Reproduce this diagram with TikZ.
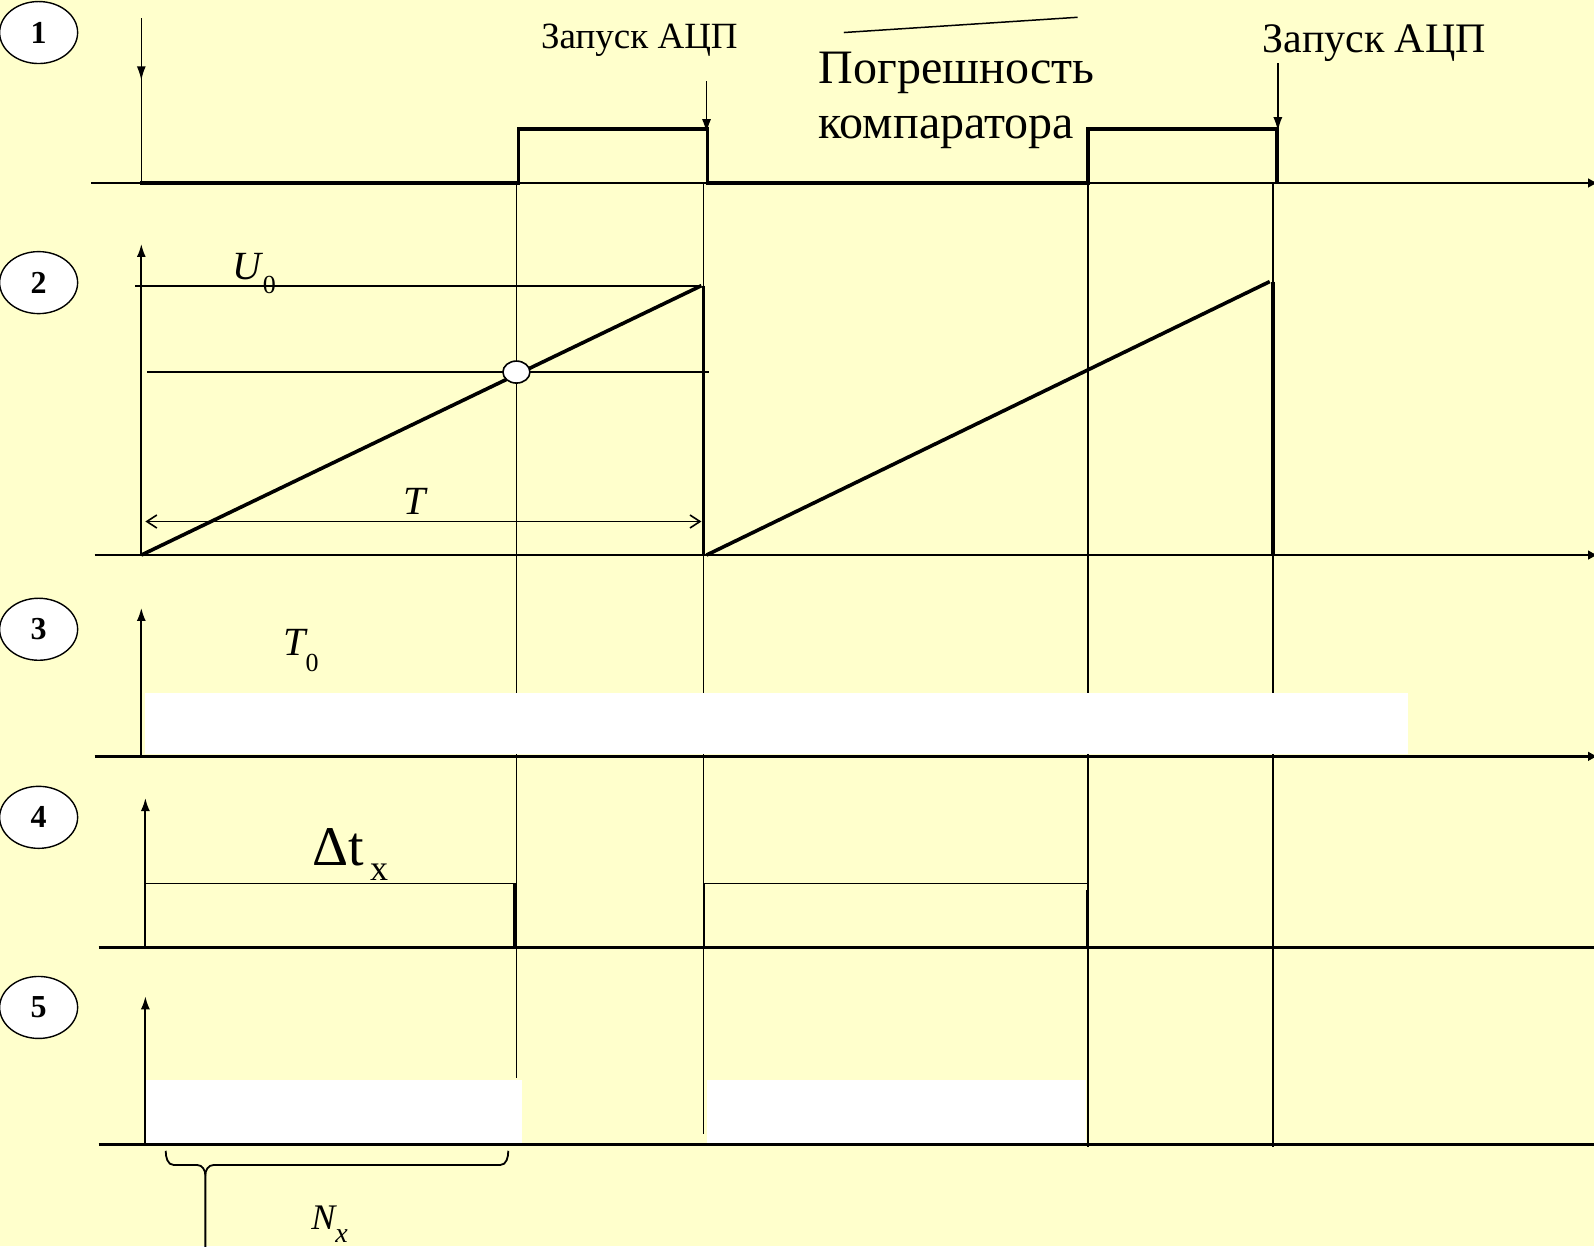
\documentclass[tikz,border=0pt]{standalone}
\usepackage{fontspec}
\setmainfont{Liberation Serif}
\usetikzlibrary{arrows.meta,shapes.geometric}
\definecolor{bgyel}{HTML}{FFFFCC}
\begin{document}
\begin{tikzpicture}[x={(1.0166pt,0)},y={(0,-1.0166pt)},
  thin line/.style={line width=1.8pt},
  sig/.style={line width=3.6pt},
  axisline/.style={line width=2.6pt},
  axarrow/.style={line width=1.8pt,-{Latex[length=13pt,width=9pt]}},
  haxis/.style={line width=2.6pt,-{Latex[length=10pt,width=10pt]}},
  numcirc/.style={ellipse,draw,fill=white,line width=1.4pt,minimum width=78pt,minimum height=62pt,inner sep=0pt,font=\fontsize{32}{32}\selectfont\bfseries},
  lbl/.style={inner sep=0pt},
  whitebar/.style={fill=white,draw=none}]
\fill[bgyel] (0,0) rectangle (1568,1226);
\useasboundingbox (0,0) rectangle (1568,1226);

% grid verticals
\draw[thin line] (508,180) -- (508,1060);
\draw[thin line] (692,180) -- (692,1115);
\draw[thin line] (1070,180) -- (1070,1128);
\draw[thin line] (1252,180) -- (1252,1128);

% number circles
\node[numcirc] (c1) at (38,32) {1};
\node[numcirc] (c2) at (38,278) {2};
\node[numcirc] (c3) at (38,619) {3};
\node[numcirc] (c4) at (38,804) {4};
\node[numcirc] (c5) at (38,991) {5};

% ===== Row 1 =====
\draw[haxis] (90,180) -- (1572,180);
\node[lbl,font=\fontsize{40}{40}\selectfont\itshape] (tlab) at (1576,138) {t};
\draw[sig] (138,180) -- (510,180) -- (510,127) -- (696,127) -- (696,180) -- (1070,180) -- (1070,127) -- (1256,127) -- (1256,180);
\draw[line width=1.6pt,-{Latex[length=14pt,width=9pt]}] (139,18) -- (139,79);
\draw[line width=1.6pt] (139,75) -- (139,180);
\draw[line width=1.6pt,-{Latex[length=14pt,width=9pt]}] (695,80) -- (695,131);
\draw[line width=1.6pt,-{Latex[length=14pt,width=9pt]}] (1257,62) -- (1257,129);
\node[lbl,font=\fontsize{37}{37}\selectfont] (zap1) at (629,40) {Запуск АЦП};
\node[lbl,font=\fontsize{42}{42}\selectfont] (zap2) at (1352,42) {Запуск АЦП};
\node[lbl,font=\fontsize{48}{48}\selectfont] (pog) at (941,72) {Погрешность};
\node[lbl,font=\fontsize{48}{48}\selectfont] (komp) at (931,130) {компаратора};
\draw[line width=1.5pt] (830,32) -- (1060,17);

% ===== Row 2 =====
\draw[haxis] (93,546) -- (1572,546);
\draw[axarrow] (139,546) -- (139,240);
\draw[thin line] (133,281) -- (690,281);
\draw[thin line] (145,366) -- (697,366);
\draw[sig] (139,546) -- (690,281);
\draw[sig] (692,281) -- (692,546);
\draw[sig] (695,546) -- (1249,277);
\draw[sig] (1252,277) -- (1252,546);
\node[ellipse,draw,fill=white,line width=1.6pt,minimum width=27pt,minimum height=22pt,inner sep=0pt] (cmp) at (508,366) {};
\draw[line width=1.6pt,{Straight Barb[length=10pt,width=13pt]}-{Straight Barb[length=10pt,width=13pt]}] (143,513) -- (690,513);
\node[lbl,font=\fontsize{40}{40}\selectfont\itshape] at (408,493) {T};
\node[lbl,font=\fontsize{40}{40}\selectfont\itshape] at (243,262) {U};
\node[lbl,font=\fontsize{26}{26}\selectfont] at (265,280) {0};

% ===== Row 3 =====
\fill[whitebar] (143,682) rectangle (1385,742);
\draw[haxis] (93,744) -- (1572,744);
\draw[axarrow] (139,744) -- (139,598);
\node[lbl,font=\fontsize{40}{40}\selectfont\itshape] at (290,632) {T};
\node[lbl,font=\fontsize{26}{26}\selectfont] at (307,652) {0};

% ===== Row 4 =====
\draw[axisline] (97,932) -- (1568,932);
\draw[axarrow] (143,932) -- (143,785);
\draw[thin line] (143,932) -- (143,869) -- (506,869);
\draw[line width=2.6pt] (506,869) -- (506,932);
\draw[thin line] (693,932) -- (693,869) -- (1070,869);
\draw[line width=2.6pt] (1070,875) -- (1070,932);
\node[lbl,font=\fontsize{56}{56}\selectfont] at (333,833) {Δt};
\node[lbl,font=\fontsize{36}{36}\selectfont] at (373,858) {x};

% ===== Row 5 =====
\fill[whitebar] (143,1062) rectangle (513,1124);
\fill[whitebar] (695,1062) rectangle (1068,1124);
\draw[axisline] (97,1126) -- (1568,1126);
\draw[axarrow] (143,1126) -- (143,980);
\draw[line width=1.8pt] (163,1132) to[out=-90,in=180] (171,1146) -- (194,1146) to[out=0,in=90] (202,1156) -- (202,1230);
\draw[line width=1.8pt] (202,1156) to[out=90,in=180] (210,1146) -- (492,1146) to[out=0,in=-90] (500,1132);
\node[lbl,font=\fontsize{36}{36}\selectfont\itshape] at (318,1198) {N};
\node[lbl,font=\fontsize{28}{28}\selectfont\itshape] at (336,1216) {x};
\end{tikzpicture}
\end{document}
